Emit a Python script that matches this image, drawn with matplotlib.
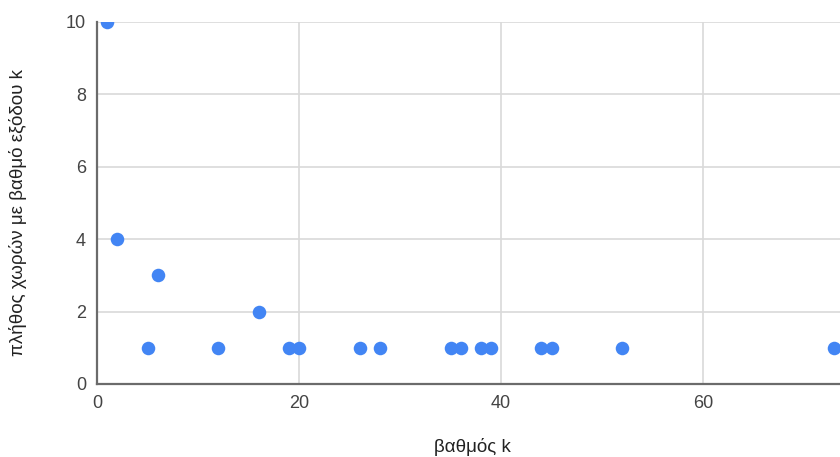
import matplotlib
matplotlib.use("Agg")
import matplotlib.pyplot as plt

degree_k = [1, 2, 5, 6, 12, 16, 19, 20, 26, 28, 35, 36, 38, 39, 44, 45, 52, 73]
countries = [10, 4, 1, 3, 1, 2, 1, 1, 1, 1, 1, 1, 1, 1, 1, 1, 1, 1]
x_ticks = [0, 20, 40, 60]
y_ticks = [0, 2, 4, 6, 8, 10]
x_title = "βαθμός k"
y_title = "πλήθος χωρών με βαθμό εξόδου k"

plt.rcParams['font.family'] = ['Liberation Sans', 'DejaVu Sans']

fig = plt.figure(figsize=(8.4, 4.57), dpi=100)
ax = fig.add_axes([97/840, 1 - 384/457, 1 - 97/840, (384 - 21.7)/457])

ax.scatter(degree_k, countries, s=95, color="#4285F4", zorder=3, linewidths=0, clip_on=True)
ax.set_xlim(0, 73.56)
ax.set_ylim(0, 10)
ax.set_xticks(x_ticks)
ax.set_yticks(y_ticks)
ax.grid(True, color="#d9d9d9", linewidth=1.2, zorder=0)
ax.set_axisbelow(True)
for s in ["top", "right"]:
    ax.spines[s].set_visible(False)
for s in ["left", "bottom"]:
    ax.spines[s].set_color("#6b6b6b")
    ax.spines[s].set_linewidth(1.6)
    ax.spines[s].set_zorder(4)
ax.tick_params(length=0, labelsize=13, labelcolor="#444444", pad=8)

fig.text(472/840, 1 - 447/457, x_title, ha="center", va="center", fontsize=13.5, color="#222222")
fig.text(18/840, 1 - 213/457, y_title, ha="center", va="center", rotation=90, fontsize=13.5, color="#222222")

fig.savefig("out.png", dpi=100)
